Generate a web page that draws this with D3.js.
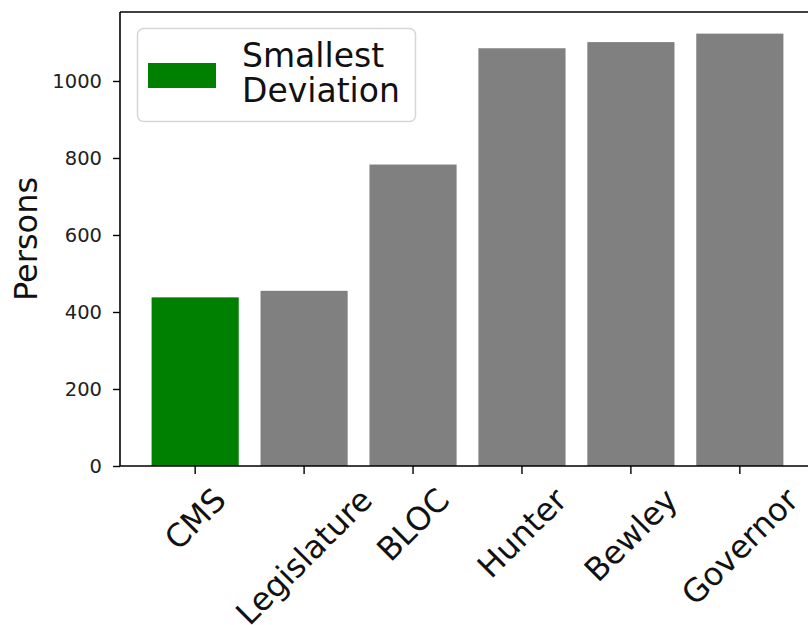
<!DOCTYPE html>
<html>
<head>
<meta charset="utf-8">
<script src="https://cdn.jsdelivr.net/npm/d3@7"></script>
<style>
  body { margin: 0; background: #fff; }
  svg { display: block; font-family: "DejaVu Sans", sans-serif; }
</style>
</head>
<body>
<svg id="chart" width="808" height="625"></svg>
<script>
const categories = ['CMS', 'Legislature', 'BLOC', 'Hunter', 'Bewley', 'Governor'];
const persons = [438, 455, 783, 1085, 1101, 1123];
const yTicks = [0, 200, 400, 600, 800, 1000];
const highlight = 'CMS';
const legendLines = ['Smallest', 'Deviation'];

const plotLeft = 120, plotRight = 815, plotTop = 12, plotBottom = 466;

const svg = d3.select('#chart');

const x = d3.scaleBand()
    .domain(categories)
    .range([plotLeft, plotRight])
    .paddingInner(0.2)
    .paddingOuter(0.29);

const y = d3.scaleLinear()
    .domain([0, d3.max(persons) * 1.05])
    .range([plotBottom, plotTop]);

// bars
svg.append('g')
    .selectAll('rect')
    .data(categories.map((c, i) => ({ name: c, value: persons[i] })))
    .enter()
    .append('rect')
    .attr('x', d => x(d.name))
    .attr('width', x.bandwidth())
    .attr('y', d => y(d.value))
    .attr('height', d => y(0) - y(d.value))
    .attr('fill', d => d.name === highlight ? '#008000' : '#808080');

// y axis
const yAxis = svg.append('g')
    .attr('transform', `translate(${plotLeft},0)`)
    .call(d3.axisLeft(y).tickValues(yTicks).tickFormat(d3.format('d'))
        .tickSize(7).tickPadding(11).tickSizeOuter(0));
yAxis.select('.domain').remove();
yAxis.selectAll('line').attr('stroke', '#000').attr('stroke-width', 1.4);
yAxis.selectAll('text')
    .attr('font-size', 19.5)
    .attr('font-family', 'DejaVu Sans')
    .attr('fill', '#222');

// x axis
const xAxis = svg.append('g')
    .attr('transform', `translate(0,${plotBottom})`)
    .call(d3.axisBottom(x).tickSize(8).tickSizeOuter(0));
xAxis.select('.domain').remove();
xAxis.selectAll('line').attr('stroke', '#000').attr('stroke-width', 1.4);

// rotated labels: rotated box centred on the tick, top just below the tick
const labelSize = 32;
const lineH = 1.164 * labelSize;
xAxis.selectAll('text').remove();
xAxis.selectAll('.tick').each(function(d) {
    const g = d3.select(this);
    const t = g.append('text')
        .attr('font-size', labelSize)
        .attr('font-family', 'DejaVu Sans')
        .attr('fill', '#111')
        .attr('text-anchor', 'middle')
        .attr('dy', '0.346em')
        .text(d);
    const w = t.node().getComputedTextLength();
    const h = (w + lineH) * Math.SQRT1_2;
    const cy = 8 + 7 + h / 2;
    t.attr('transform', `translate(0,${cy}) rotate(-45)`);
});

// spines
const spine = svg.append('g').attr('stroke', '#000').attr('stroke-width', 1.6);
spine.append('line').attr('x1', plotLeft).attr('x2', plotLeft).attr('y1', plotTop).attr('y2', plotBottom);
spine.append('line').attr('x1', plotLeft).attr('x2', plotRight).attr('y1', plotBottom).attr('y2', plotBottom);
spine.append('line').attr('x1', plotLeft).attr('x2', plotRight).attr('y1', plotTop).attr('y2', plotTop);
spine.append('line').attr('x1', plotRight).attr('x2', plotRight).attr('y1', plotTop).attr('y2', plotBottom);

// y label
svg.append('text')
    .attr('transform', `translate(37,${(plotTop + plotBottom) / 2}) rotate(-90)`)
    .attr('text-anchor', 'middle')
    .attr('font-size', 32)
    .attr('fill', '#111')
    .text('Persons');

// legend
const legend = svg.append('g');
legend.append('rect')
    .attr('x', 137.5).attr('y', 28.5)
    .attr('width', 278).attr('height', 93)
    .attr('rx', 6)
    .attr('fill', '#fff').attr('fill-opacity', 0.8)
    .attr('stroke', '#d6d6d6').attr('stroke-width', 1.5);
legend.append('rect')
    .attr('x', 148).attr('y', 63)
    .attr('width', 68).attr('height', 25)
    .attr('fill', '#008000');
legend.selectAll('text.lg')
    .data(legendLines)
    .enter()
    .append('text')
    .attr('class', 'lg')
    .attr('x', 242)
    .attr('y', (d, i) => 67 + i * 35)
    .attr('font-size', 33)
    .attr('fill', '#111')
    .text(d => d);
</script>
</body>
</html>
